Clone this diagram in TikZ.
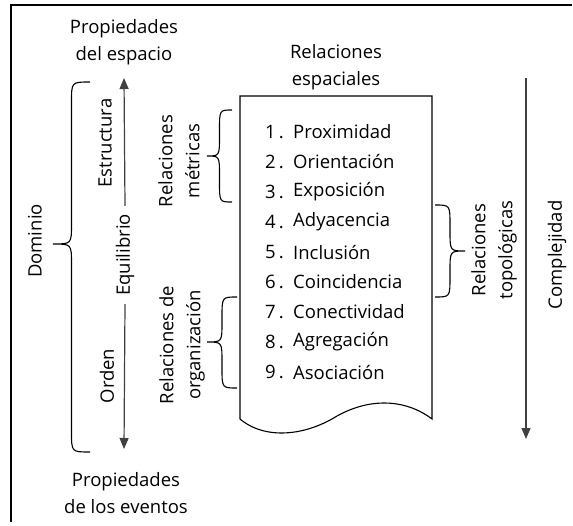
\documentclass[tikz,border=0pt]{standalone}
\usepackage{fontspec}
\setmainfont{Open Sans}
\usetikzlibrary{arrows.meta}

\tikzset{
	texto/.style={font=\fontsize{18.5}{27}\selectfont, align=center, inner sep=0pt},
	vertical/.style={texto, rotate=90},
	llave/.style={line width=1.1pt},
	flecha/.style={draw=black!75, line width=1.2pt, -{Triangle[length=11pt,width=9pt]}},
}

% llave: extremo x, punta x, y arriba, y punta, y abajo
\newcommand\llaveta[5]{
	\draw[llave] (#1,#3) .. controls ({(#1+#2)/2},#3) .. ({(#1+#2)/2},{#3+20})
		-- ({(#1+#2)/2},{#4-20}) .. controls ({(#1+#2)/2},#4) .. (#2,#4)
		.. controls ({(#1+#2)/2},#4) .. ({(#1+#2)/2},{#4+20})
		-- ({(#1+#2)/2},{#5-20}) .. controls ({(#1+#2)/2},#5) .. (#1,#5);
}

\begin{document}
\begin{tikzpicture}[x=1pt,y=-1pt]
	%\draw[help lines] (0,0) grid (573,525);
	\useasboundingbox (0,0) rectangle (573,525);

	\path
	coordinate (aux0) at (124,78)
	coordinate (aux1) at (124,449)
	coordinate (aux2) at (526,78)
	coordinate (aux3) at (526,439)
	coordinate (esq0) at (11,522)
	coordinate (esq1) at (11,5)
	coordinate (esq2) at (572,5)
	;

	\draw[line width=1.1pt] (esq0) -- (esq1) -- (esq2);

	% documento
	\draw[line width=1.1pt] (240,419) -- (240,96) -- (432,96) -- (432,419)
		.. controls (410,402) and (375,395) .. (337,416)
		.. controls (305,436) and (265,440) .. (240,419);

	\node[texto] (propesp) at (124,42) {Propiedades\\del espacio};
	\node[texto] (propev) at (126,493) {Propiedades\\de los eventos};
	\node[texto] (relesp) at (336,67) {Relaciones\\espaciales};

	\foreach \n/\t [count=\i] in {1/Proximidad,2/Orientación,3/Exposición,
		4/Adyacencia,5/Inclusión,6/Coincidencia,7/Conectividad,
		8/Agregación,9/Asociación}
	{
		\node[texto, anchor=east] (num\i) at (284,{132+30*(\i-1)}) {\n\,.};
		\node[texto, anchor=west] (item\i) at (293,{132+30*(\i-1)}) {\t};
	}

	\node[vertical] (metr) at (179,161) {Relaciones\\métricas};
	\node[vertical] (organ) at (182,345) {Relaciones de\\organización};
	\node[vertical] (topo) at (494,250) {Relaciones\\topológicas};
	\node[vertical] (compl) at (557,255) {Complejidad};
	\node[vertical] (dom) at (35,241) {Dominio};
	\node[vertical] (estr) at (105,143) {Estructura};
	\node[vertical] (orden) at (107,376) {Orden};
	\node[vertical, inner xsep=8pt] (equil) at (125,255) {Equilibrio};

	\llaveta{232}{207}{110}{156}{202}
	\llaveta{237}{207}{297}{342}{388}
	\llaveta{435}{465}{205}{251}{297}
	\llaveta{90}{53}{82}{244}{452}

	\draw[flecha] (equil.east) -- (aux0);
	\draw[flecha] (equil.west) -- (aux1);
	\draw[flecha] (aux2) -- (aux3);

\end{tikzpicture}
\end{document}
